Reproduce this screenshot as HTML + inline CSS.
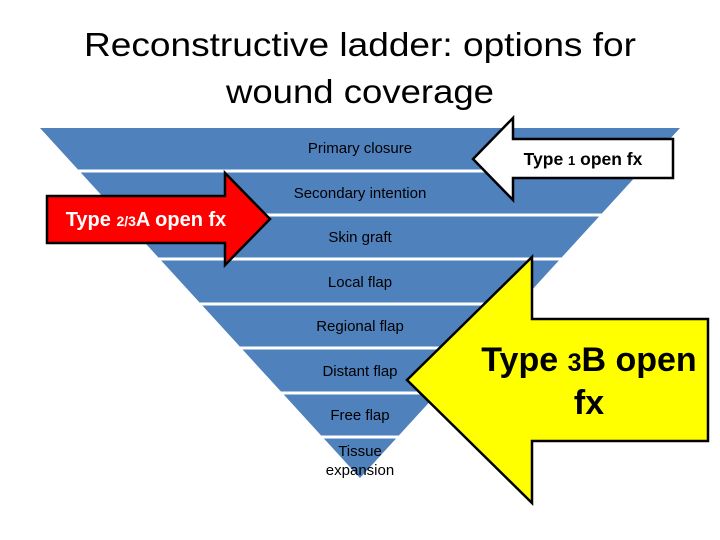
<!DOCTYPE html>
<html><head><meta charset="utf-8"><style>html,body{margin:0;padding:0;background:#fff}svg{display:block}</style></head>
<body>
<svg width="720" height="540" viewBox="0 0 720 540" xmlns="http://www.w3.org/2000/svg" font-family="Liberation Sans, sans-serif">
<rect width="720" height="540" fill="#fff"/>
<text x="360" y="56" font-size="33" text-anchor="middle" textLength="552" lengthAdjust="spacingAndGlyphs" fill="#000">Reconstructive ladder: options for</text>
<text x="360" y="103" font-size="33" text-anchor="middle" textLength="268" lengthAdjust="spacingAndGlyphs" fill="#000">wound coverage</text>
<polygon points="40,128 680,128 360,478" fill="#4F81BD"/>
<g stroke="#fff" stroke-width="3">
<line x1="0" y1="171" x2="720" y2="171"/>
<line x1="0" y1="215" x2="720" y2="215"/>
<line x1="0" y1="259" x2="720" y2="259"/>
<line x1="0" y1="304" x2="720" y2="304"/>
<line x1="0" y1="348" x2="720" y2="348"/>
<line x1="0" y1="393" x2="720" y2="393"/>
<line x1="0" y1="437" x2="720" y2="437"/>
</g>
<g font-size="15" fill="#000" text-anchor="middle">
<text x="360" y="153">Primary closure</text>
<text x="360" y="198">Secondary intention</text>
<text x="360" y="242">Skin graft</text>
<text x="360" y="287">Local flap</text>
<text x="360" y="331">Regional flap</text>
<text x="360" y="376">Distant flap</text>
<text x="360" y="420">Free flap</text>
<text x="360" y="456">Tissue</text>
<text x="360" y="475">expansion</text>
</g>
<polygon points="47,196 225,196 225,173 270,219 225,265 225,243 47,243" fill="#f00" stroke="#000" stroke-width="2.5"/>
<text x="146" y="226" font-size="20" font-weight="bold" fill="#fff" text-anchor="middle">Type <tspan font-size="14">2/3</tspan>A open fx</text>
<polygon points="473,159 513,118 513,139 673,139 673,178 513,178 513,200" fill="#fff" stroke="#000" stroke-width="2.5"/>
<text x="583" y="165" font-size="17.5" font-weight="bold" fill="#000" text-anchor="middle">Type <tspan font-size="13">1</tspan> open fx</text>
<polygon points="407,380 532,257 532,319 708,319 708,441 532,441 532,503" fill="#ff0" stroke="#000" stroke-width="2.5"/>
<text x="589" y="371" font-size="34" font-weight="bold" fill="#000" text-anchor="middle">Type <tspan font-size="25">3</tspan>B open</text>
<text x="589" y="414" font-size="34" font-weight="bold" fill="#000" text-anchor="middle">fx</text>
</svg>
</body></html>
